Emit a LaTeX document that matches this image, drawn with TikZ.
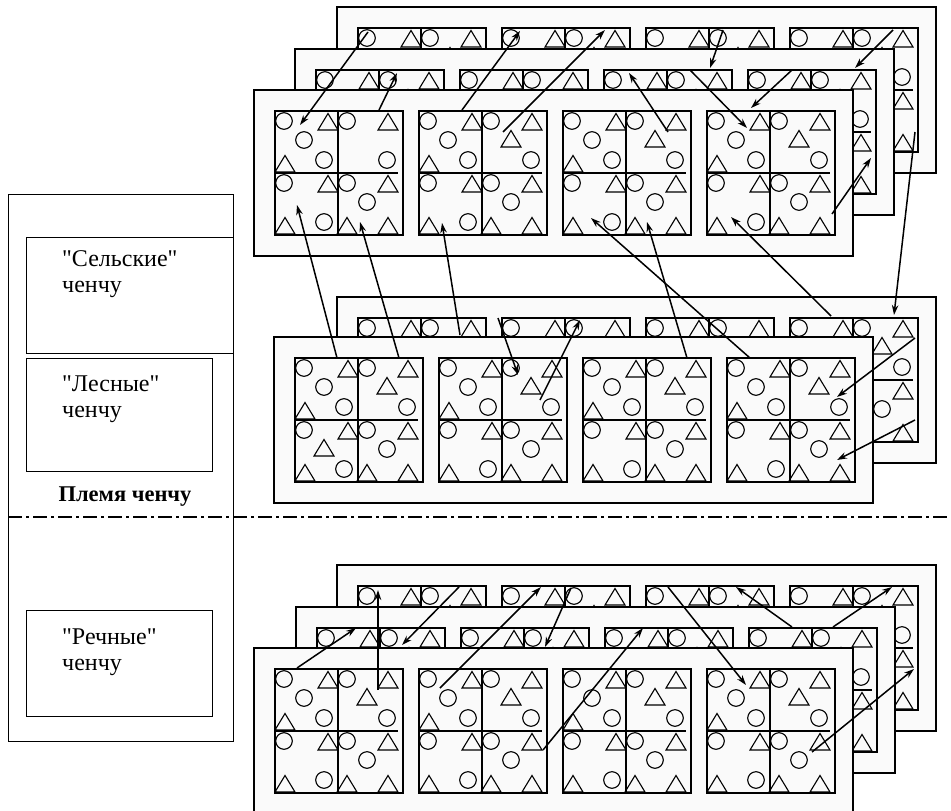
\documentclass[tikz,border=0pt]{standalone}
\usepackage{fontspec}
\setmainfont{Liberation Serif}
\newfontfamily\lblfont{Liberation Serif}
\usetikzlibrary{arrows.meta}
\tikzset{
  panel/.style={draw=black, line width=2.4pt, fill=black!2},
  blockline/.style={draw=black, line width=2pt},
  item/.style={draw=black, line width=1.1pt},
  conn/.style={draw=black, line width=1.5pt, -{Stealth[length=10pt,width=6.5pt]}},
  labelbox/.style={draw=black, line width=1.4pt, inner sep=0pt, anchor=north west},
  labeltext/.style={anchor=west, align=left, inner sep=0pt, font=\lblfont\fontsize{24}{25.5}\selectfont},
  dashdot/.style={draw=black, line width=1.2pt, dash pattern=on 14pt off 4pt on 3pt off 4pt}
}
\newcommand{\crc}[2]{\draw[item] (#1,#2) circle[radius=8.3pt];}
\newcommand{\trg}[2]{\draw[item] ({#1-10},#2) -- ({#1+10},#2) -- (#1,{#2-16.5}) -- cycle;}
\newcommand{\blk}[3]{%
  \begin{scope}[shift={(#1,#2)}]
    \fill[black!2] (0,0) rectangle (128,124);
    % top-left cell
    \crc{9}{10}\trg{53}{19}\crc{29}{29}\trg{10}{61}\crc{49}{49}
    % top-right cell
    \crc{72}{10}\trg{113}{19}\crc{112}{49}
    \ifnum#3=1\relax\else\trg{92}{36}\fi
    % bottom-left cell
    \crc{9}{72}\trg{53}{81}\trg{10}{123}\crc{49}{111}
    \ifnum#3=2\relax\trg{29}{98}\fi
    % bottom-right cell
    \crc{72}{72}\trg{113}{81}\crc{92}{91}\trg{72}{123}\trg{113}{123}
    \draw[blockline] (0,0) rectangle (128,124);
    \draw[blockline] (63,0) -- (63,124);
    \draw[blockline] (0,62) -- (123,62);
  \end{scope}}
\newcommand{\pnl}[3]{%
  \draw[panel] (#1,#2) rectangle ++(599,166);
  \blk{#1+21}{#2+21}{#3}
  \blk{#1+165}{#2+21}{0}
  \blk{#1+309}{#2+21}{0}
  \blk{#1+453}{#2+21}{0}}
\begin{document}
\begin{tikzpicture}[x=1pt,y=-1pt]
\useasboundingbox (0,0) rectangle (951,811);
% ---------- left legend ----------
\node[labelbox, minimum width=225pt, minimum height=547pt] (tribe) at (8,194) {};
\node[labelbox, minimum width=207pt, minimum height=116pt] (selbox) at (26,237) {};
\node[labelbox, minimum width=186pt, minimum height=113pt] (lesbox) at (26,358) {};
\node[labelbox, minimum width=186pt, minimum height=106pt] (recbox) at (26,610) {};
\node[labeltext] (sel) at (62,274) {"Сельские"\\ченчу};
\node[labeltext] (les) at (62,399) {"Лесные"\\ченчу};
\node[labeltext] (rec) at (62,652) {"Речные"\\ченчу};
\node[font=\lblfont\fontsize{22.5}{25}\selectfont\bfseries, inner sep=0pt] (tribename) at (125,497) {Племя ченчу};
\coordinate (dl) at (8,517);
\coordinate (dr) at (951,517);
\draw[dashdot] (dl) -- (dr);
% ---------- top group ----------
\pnl{337}{7}{0}
\pnl{295}{49}{0}
\pnl{254}{90}{1}
% ---------- middle group ----------
\pnl{337}{297}{0}
\pnl{274}{337}{2}
% ---------- bottom group ----------
\pnl{337}{565}{0}
\pnl{296}{607}{0}
\pnl{254}{648}{0}
% ---------- connector end points ----------
\coordinate (t1a) at (368,32);  \coordinate (t1b) at (300,125);
\coordinate (t2a) at (379,110); \coordinate (t2b) at (397,73);
\coordinate (t3a) at (462,110); \coordinate (t3b) at (520,31);
\coordinate (t4a) at (503,132); \coordinate (t4b) at (605,30);
\coordinate (t5a) at (723,30);  \coordinate (t5b) at (710,68);
\coordinate (t6a) at (668,132); \coordinate (t6b) at (629,73);
\coordinate (t7a) at (690,70);  \coordinate (t7b) at (747,128);
\coordinate (t8a) at (893,30);  \coordinate (t8b) at (855,68);
\coordinate (t9a) at (792,70);  \coordinate (t9b) at (751,108);
\coordinate (t10a) at (832,214); \coordinate (t10b) at (871,158);
\coordinate (m1a) at (337,358); \coordinate (m1b) at (297,205);
\coordinate (m2a) at (399,358); \coordinate (m2b) at (360,222);
\coordinate (m3a) at (460,335); \coordinate (m3b) at (442,223);
\coordinate (m4a) at (687,358); \coordinate (m4b) at (647,222);
\coordinate (m5a) at (750,358); \coordinate (m5b) at (591,218);
\coordinate (m6a) at (831,316); \coordinate (m6b) at (731,217);
\coordinate (m7a) at (915,132); \coordinate (m7b) at (894,315);
\coordinate (m8a) at (498,318); \coordinate (m8b) at (518,375);
\coordinate (m9a) at (540,400); \coordinate (m9b) at (580,320);
\coordinate (m10a) at (915,338); \coordinate (m10b) at (837,397);
\coordinate (m11a) at (915,420); \coordinate (m11b) at (837,460);
\coordinate (b1a) at (297,668); \coordinate (b1b) at (356,628);
\coordinate (b2a) at (378,690); \coordinate (b2b) at (378,590);
\coordinate (b3a) at (459,587); \coordinate (b3b) at (402,645);
\coordinate (b4a) at (440,688); \coordinate (b4b) at (541,587);
\coordinate (b5a) at (571,588); \coordinate (b5b) at (545,647);
\coordinate (b6a) at (543,750); \coordinate (b6b) at (643,628);
\coordinate (b7a) at (668,587); \coordinate (b7b) at (746,685);
\coordinate (b8a) at (792,627); \coordinate (b8b) at (736,587);
\coordinate (b9a) at (833,627); \coordinate (b9b) at (892,587);
\coordinate (b10a) at (812,752); \coordinate (b10b) at (914,669);
% ---------- connectors ----------
\foreach \c in {t1,t2,t3,t4,t5,t6,t7,t8,t9,t10,m1,m2,m3,m4,m5,m6,m7,m8,m9,m10,m11,b1,b2,b3,b4,b5,b6,b7,b8,b9,b10}
  \draw[conn] (\c a) -- (\c b);
\end{tikzpicture}
\end{document}
